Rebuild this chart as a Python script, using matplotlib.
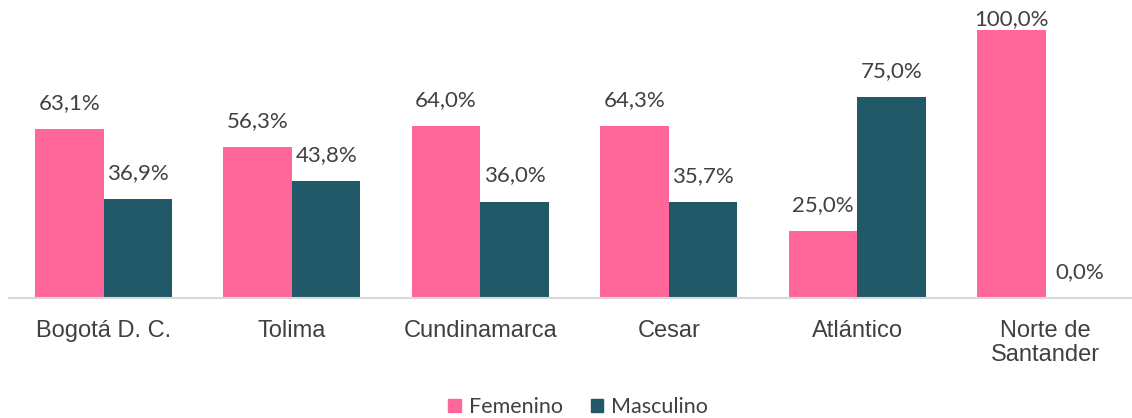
import numpy as np
import matplotlib
matplotlib.use("Agg")
import matplotlib.pyplot as plt
from matplotlib.patches import Patch

# data
categories = ["Bogotá D. C.", "Tolima", "Cundinamarca", "Cesar", "Atlántico",
              "Norte de\nSantander"]
femenino = [63.1, 56.3, 64.0, 64.3, 25.0, 100.0]
masculino = [36.9, 43.8, 36.0, 35.7, 75.0, 0.0]

PINK = "#FF6699"
TEAL = "#215968"
TEXT = "#404040"

W, H = 1132, 418
YMAX = 111.2
fig = plt.figure(figsize=(W / 100, H / 100), dpi=100)
# plot area: baseline at y=298px, one category = ~188.4px
ax = fig.add_axes([9.3 / W, (H - 298) / H, 1130.4 / W, 298 / H])
px_per_unit = 298 / YMAX

x = np.arange(len(categories))
bw = 0.364
b1 = ax.bar(x - bw / 2, femenino, width=bw, color=PINK, label="Femenino")
b2 = ax.bar(x + bw / 2, masculino, width=bw, color=TEAL, label="Masculino")

for bars, vals in ((b1, femenino), (b2, masculino)):
    for rect, v in zip(bars, vals):
        # labels that would leave the chart area get pushed down (like Excel)
        room = (YMAX - v) * px_per_unit
        off_px = min(16, room - 29)
        ax.annotate(f"{v:.1f}%".replace(".", ","),
                    (rect.get_x() + rect.get_width() / 2, v),
                    xytext=(0, off_px * 0.72), textcoords="offset points",
                    ha="center", va="bottom", fontsize=16, color=TEXT,
                    family="Lato", clip_on=False)

ax.set_xlim(-0.5, len(categories) - 0.5)
ax.set_ylim(0, YMAX)
ax.set_xticks(x)
ax.set_xticklabels(categories, fontsize=17, color=TEXT, family="Liberation Sans",
                   linespacing=1.12)
ax.tick_params(axis="x", length=0, pad=16)
ax.set_yticks([])
for s in ("top", "right", "left"):
    ax.spines[s].set_visible(False)
ax.spines["bottom"].set_color("#D9D9D9")
ax.spines["bottom"].set_linewidth(1.5)

handles = [Patch(color=PINK, label="Femenino"), Patch(color=TEAL, label="Masculino")]
fig.legend(handles=handles, loc="center", bbox_to_anchor=(578 / W, 1 - 407 / H),
           ncol=2, frameon=False, prop={"family": "Lato", "size": 15.5},
           labelcolor=TEXT, handlelength=0.6, handleheight=0.6,
           handletextpad=0.35, columnspacing=1.3, borderpad=0)

fig.savefig("out.png", dpi=100)
